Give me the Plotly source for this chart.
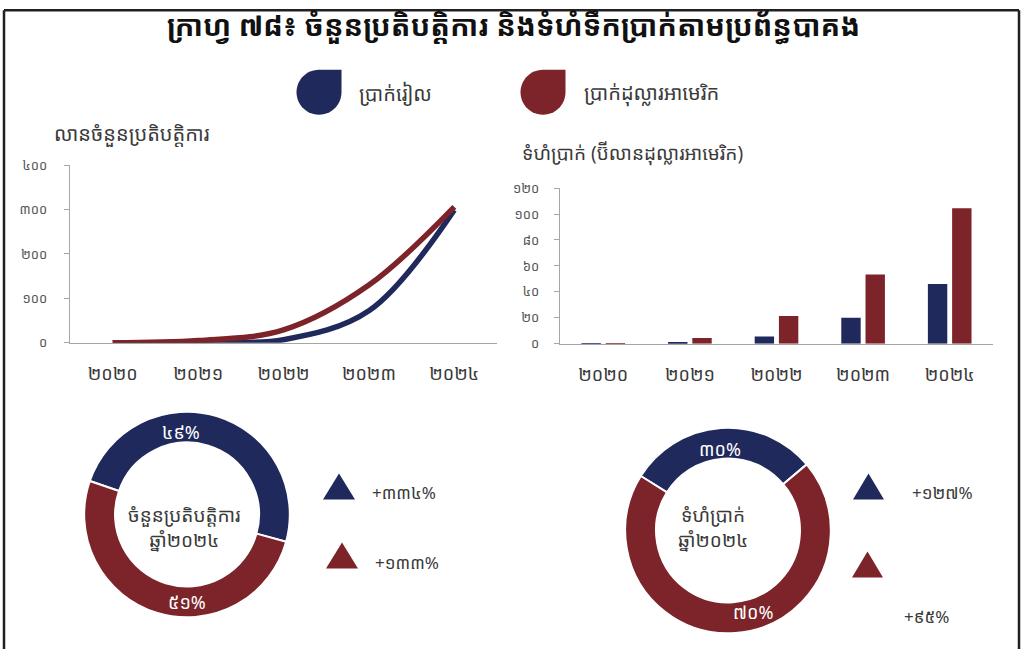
import numpy as np
import plotly.graph_objects as go

W, H = 1022, 649
# measured mapping of the viewer: picture_y = Y0 + YS * figure_y
Y0, YS = 8.6, 0.974

# ---------------- data ----------------
years = ["២០២០", "២០២១", "២០២២", "២០២៣", "២០២៤"]
series_names = ["ប្រាក់រៀល", "ប្រាក់ដុល្លារអាមេរិក"]
colors = ["#1f295b", "#7c2429"]

# million transactions
tx_khr = [0, 1, 7, 72, 299]
tx_usd = [0, 5, 29, 130, 306]

# billion USD
val_khr = [0.3, 0.8, 5.7, 20, 46]
val_usd = [0.3, 4.5, 21.5, 53.5, 104.5]

line_yticks = [0, 100, 200, 300, 400]
line_yticklabels = ["០", "១០០", "២០០", "៣០០", "៤០០"]
bar_yticks = [0, 20, 40, 60, 80, 100, 120]
bar_yticklabels = ["០", "២០", "៤០", "៦០", "៨០", "១០០", "១២០"]

share_tx = [49, 51]
share_val = [30, 70]
share_tx_labels = ["៤៩%", "៥១%"]
share_val_labels = ["៣០%", "៧០%"]
growth_tx = ["+៣៣៤%", "+១៣៣%"]
growth_val = ["+១២៧%", "+៩៥%"]

title = "ក្រាហ្វ ៧៨៖ ចំនួនប្រតិបត្តិការ និងទំហំទឹកប្រាក់តាមប្រព័ន្ធបាគង"
line_title = "លានចំនួនប្រតិបត្តិការ"
bar_title = "ទំហំប្រាក់ (ប៊ីលានដុល្លារអាមេរិក)"
donut1_center = "ចំនួនប្រតិបត្តិការ<br>ឆ្នាំ២០២៤"
donut2_center = "ទំហំប្រាក់<br>ឆ្នាំ២០២៤"

FONT = "Noto Sans Khmer, Khmer OS Siemreap, Khmer OS, sans-serif"
TXT = "#3a3a3a"
AX = "#a6a6a6"


def fx(p):
    return p / W


def fy(p):
    return 1 - ((p - Y0) / YS) / H


fig = go.Figure()

# ---------------- line chart ----------------
for name, ys, c in zip(series_names, [tx_khr, tx_usd], colors):
    fig.add_trace(go.Scatter(
        x=years, y=ys, name=name, mode="lines",
        line=dict(color=c, width=5.5, shape="spline", smoothing=1.0),
        xaxis="x", yaxis="y", showlegend=False, hoverinfo="skip"))

# ---------------- bar chart ----------------
for name, ys, c in zip(series_names, [val_khr, val_usd], colors):
    fig.add_trace(go.Bar(
        x=years, y=ys, name=name, marker=dict(color=c, line=dict(width=0)),
        xaxis="x2", yaxis="y2", showlegend=False, hoverinfo="skip"))

# ---------------- donuts ----------------
fig.add_trace(go.Pie(
    values=share_tx, labels=series_names, hole=0.7, sort=False,
    direction="clockwise", rotation=-71, textinfo="none",
    marker=dict(colors=colors, line=dict(color="white", width=2)),
    domain=dict(x=[fx(84), fx(290)], y=[fy(618), fy(412)]),
    showlegend=False, hoverinfo="skip"))
fig.add_trace(go.Pie(
    values=share_val, labels=series_names, hole=0.7, sort=False,
    direction="clockwise", rotation=-58, textinfo="none",
    marker=dict(colors=colors, line=dict(color="white", width=2)),
    domain=dict(x=[fx(625), fx(831)], y=[fy(634), fy(428)]),
    showlegend=False, hoverinfo="skip"))

axis_common = dict(showgrid=False, zeroline=False, showline=True,
                   linecolor=AX, linewidth=1.2)

fig.update_layout(
    width=W, height=H, margin=dict(l=0, r=0, t=0, b=0),
    paper_bgcolor="white", plot_bgcolor="white",
    font=dict(family=FONT, color=TXT),
    barmode="group", bargap=0.44, bargroupgap=0.2,
    xaxis=dict(domain=[fx(70), fx(497)], anchor="y", type="category",
               range=[-0.5, 4.5], ticks="", tickfont=dict(size=18, color=TXT),
               ticklabelstandoff=14, **axis_common),
    yaxis=dict(domain=[fy(343), fy(165)], anchor="x", range=[0, 400],
               tickvals=line_yticks, ticktext=line_yticklabels,
               ticks="outside", ticklen=5, tickcolor=AX,
               tickfont=dict(size=13, color="#555555"),
               ticklabelstandoff=14, **axis_common),
    xaxis2=dict(domain=[fx(560), fx(993)], anchor="y2", type="category",
                range=[-0.5, 4.5], ticks="", tickfont=dict(size=18, color=TXT),
                ticklabelstandoff=14, **axis_common),
    yaxis2=dict(domain=[fy(344), fy(188)], anchor="x2", range=[0, 120],
                tickvals=bar_yticks, ticktext=bar_yticklabels,
                ticks="outside", ticklen=5, tickcolor=AX,
                tickfont=dict(size=13, color="#555555"),
                ticklabelstandoff=12, **axis_common),
)

ann = []


def text(x, y, s, size, color=TXT, xanchor="left", bold=False):
    ann.append(dict(x=fx(x), y=fy(y), xref="paper", yref="paper", text=s,
                    showarrow=False, xanchor=xanchor, yanchor="middle",
                    font=dict(size=size, color=color, family=FONT,
                              weight="bold" if bold else "normal")))


text(513, 25, title, 29, color="#111111", xanchor="center", bold=True)
text(357, 93, series_names[0], 20)
text(582, 93, series_names[1], 20)
text(52, 133, line_title, 20)
text(520, 153, bar_title, 19)

text(181, 432, share_tx_labels[0], 18, color="white", xanchor="center")
text(187, 603, share_tx_labels[1], 18, color="white", xanchor="center")
text(720, 449, share_val_labels[0], 18, color="white", xanchor="center")
text(753, 613, share_val_labels[1], 18, color="white", xanchor="center")

ann.append(dict(x=fx(184), y=fy(528), xref="paper", yref="paper",
                text=donut1_center, showarrow=False, xanchor="center",
                yanchor="middle", font=dict(size=19, color=TXT, family=FONT)))
ann.append(dict(x=fx(713), y=fy(528), xref="paper", yref="paper",
                text=donut2_center, showarrow=False, xanchor="center",
                yanchor="middle", font=dict(size=19, color=TXT, family=FONT)))

text(370, 493, growth_tx[0], 17)
text(373, 563, growth_tx[1], 17)
text(910, 493, growth_val[0], 17)
text(902, 617, growth_val[1], 17)

fig.update_layout(annotations=ann)

shapes = []


def poly(points, color):
    d = "M " + " L ".join(f"{fx(px):.5f},{fy(py):.5f}" for px, py in points) + " Z"
    shapes.append(dict(type="path", xref="paper", yref="paper", path=d,
                       fillcolor=color, line=dict(width=0), layer="above"))


def tri(x0, x1, y0, y1, color):
    poly([((x0 + x1) / 2, y0), (x1, y1), (x0, y1)], color)


tri(323, 355, 474, 500, colors[0])
tri(326, 358, 543, 569, colors[1])
tri(853, 884, 474, 500, colors[0])
tri(852, 883, 552, 578, colors[1])


def drop(cx, cy, r, color):
    pts = [(cx, cy - r), (cx + r, cy - r), (cx + r, cy)]
    for a in np.linspace(0, 1.5 * np.pi, 40):
        pts.append((cx + r * np.cos(a), cy + r * np.sin(a)))
    poly(pts, color)


drop(319, 92, 22.5, colors[0])
drop(543, 92, 22.5, colors[1])

# frame (top edge kept just inside the drawable area)
top = Y0 + 1.2
for x0, y0, x1, y1 in [(4, top, 1019, top), (4, top, 4, 670), (1019, top, 1019, 670)]:
    shapes.append(dict(type="line", xref="paper", yref="paper",
                       x0=fx(x0), y0=fy(y0), x1=fx(x1), y1=fy(y1),
                       line=dict(color="#231f20", width=2.5)))

fig.update_layout(shapes=shapes)

fig.write_html("out.html",
               config={"displayModeBar": False},
               post_script="document.body.style.margin='0';"
                           "document.body.style.overflow='hidden';")
